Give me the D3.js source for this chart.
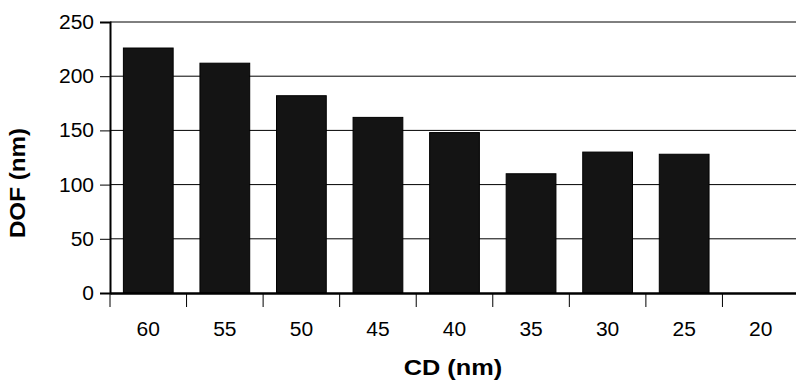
<!DOCTYPE html>
<html><head><meta charset="utf-8">
<script src="https://cdn.jsdelivr.net/npm/d3@7"></script>
<style>body{margin:0;background:#fff}svg{display:block}</style>
</head><body>
<svg id="c" width="796" height="383"></svg>
<script>
const categories = ["60","55","50","45","40","35","30","25","20"];
const dofValues = [226, 212, 182, 162, 148, 110, 130, 128, null];
const yTicks = [0, 50, 100, 150, 200, 250];

const svg = d3.select("#c");
const m = {left:110, top:22, right:799, bottom:293};
const x = d3.scaleBand().domain(categories).range([m.left, m.right]).paddingInner(0.35).paddingOuter(0.175);
const y = d3.scaleLinear().domain([0,250]).range([m.bottom, m.top]);
const font = "Liberation Sans, Arial, sans-serif";

function stretch(sel, k){
  sel.each(function(){
    const w = this.getComputedTextLength();
    d3.select(this).attr("textLength", w*k).attr("lengthAdjust","spacingAndGlyphs");
  });
}

// gridlines
svg.append("g").selectAll("line").data(yTicks.slice(1)).join("line")
  .attr("x1", m.left).attr("x2", m.right)
  .attr("y1", d=>y(d)).attr("y2", d=>y(d))
  .attr("stroke", "#000").attr("stroke-width", 1);

// bars
svg.append("g").selectAll("rect").data(categories.map((c,i)=>({c, v:dofValues[i]})).filter(d=>d.v!=null)).join("rect")
  .attr("x", d=>x(d.c)).attr("width", x.bandwidth())
  .attr("y", d=>y(d.v)).attr("height", d=>y(0)-y(d.v))
  .attr("fill", "#141414").attr("stroke", "#000").attr("stroke-width", 1);

// y axis
const ya = svg.append("g").attr("transform", `translate(${m.left},0)`)
  .call(d3.axisLeft(y).tickValues(yTicks).tickSize(10).tickPadding(6));
ya.select(".domain").attr("stroke-width", 2);
ya.selectAll(".tick line").attr("stroke-width", 1);
ya.selectAll("text").attr("font-family", font).attr("font-size", 20).attr("fill","#000").call(stretch, 1.05);

// x axis
const xa = svg.append("g").attr("transform", `translate(0,${m.bottom})`)
  .call(d3.axisBottom(x).tickSize(0).tickPadding(29));
xa.select(".domain").attr("stroke-width", 2.5);
xa.selectAll("text").attr("font-family", font).attr("font-size", 20).attr("fill","#000").call(stretch, 1.05);
// tick marks at category boundaries
xa.append("g").selectAll("line").data(d3.range(categories.length)).join("line")
  .attr("x1", i=> m.left + i*x.step())
  .attr("x2", i=> m.left + i*x.step())
  .attr("y1", 0).attr("y2", 14).attr("stroke","#000").attr("stroke-width",1);

// titles
svg.append("text").attr("x", 453).attr("y", 375).attr("text-anchor","middle")
  .attr("font-family", font).attr("font-weight","bold").attr("font-size", 22).text("CD (nm)").call(stretch, 1.15);
svg.append("text").attr("transform","translate(25,183) rotate(-90)").attr("text-anchor","middle")
  .attr("font-family", font).attr("font-weight","bold").attr("font-size", 22).text("DOF (nm)").call(stretch, 1.1);
</script>
</body></html>
